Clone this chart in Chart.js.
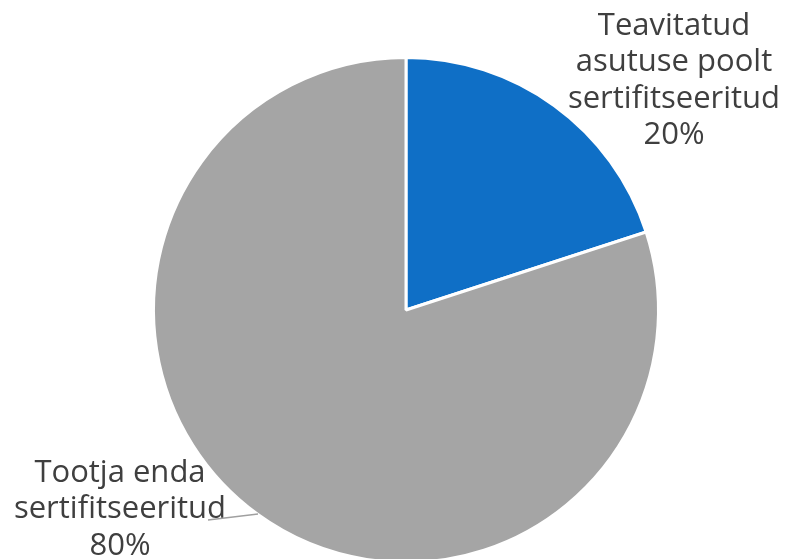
<!DOCTYPE html>
<html><head><meta charset="utf-8">
<script src="https://cdn.jsdelivr.net/npm/chart.js"></script>
<style>html,body{margin:0;padding:0;background:#fff;overflow:hidden;width:787px;height:559px}#w{width:787px;height:620px;position:relative}</style>
</head><body><div id="w"><canvas id="c"></canvas></div>
<script>
const categories = ["Teavitatud asutuse poolt sertifitseeritud", "Tootja enda sertifitseeritud"];
const labelLines = [["Teavitatud","asutuse poolt","sertifitseeritud"],["Tootja enda","sertifitseeritud"]];
const values = [20, 80];
const colors = ["#0F6FC6", "#A5A5A5"];

const FONT = '31px "Open Sans"';
const labelPlugin = {
  id: 'pieLabels',
  afterDatasetsDraw(chart) {
    const ctx = chart.ctx;
    const meta = chart.getDatasetMeta(0);
    const total = values.reduce((a,b)=>a+b,0);
    ctx.save();
    ctx.font = FONT;
    ctx.fillStyle = '#3F3F3F';
    ctx.textAlign = 'center';
    ctx.textBaseline = 'middle';
    const lh = 36.5;
    const anchors = [{x: 674, y: 26}, {x: 120, y: 473}];
    meta.data.forEach((arc, i) => {
      const lines = labelLines[i].concat([Math.round(values[i]/total*100) + '%']);
      const a = anchors[i];
      lines.forEach((t, k) => ctx.fillText(t, a.x, a.y + k*lh));
      if (i === 1) {
        ctx.strokeStyle = '#A0A0A0';
        ctx.lineWidth = 1.3;
        ctx.beginPath();
        ctx.moveTo(208, 520);
        ctx.lineTo(258, 514);
        ctx.stroke();
      }
    });
    ctx.restore();
  }
};

new Chart(document.getElementById('c'), {
  type: 'pie',
  data: { labels: categories, datasets: [{ data: values, backgroundColor: colors, borderColor: '#ffffff', borderWidth: 3 }] },
  options: {
    responsive: true, maintainAspectRatio: false, animation: false,
    layout: { padding: { left: 152, right: 127, top: 56, bottom: 56 } },
    plugins: { legend: { display: false }, tooltip: { enabled: false } }
  },
  plugins: [labelPlugin]
});
</script></body></html>
